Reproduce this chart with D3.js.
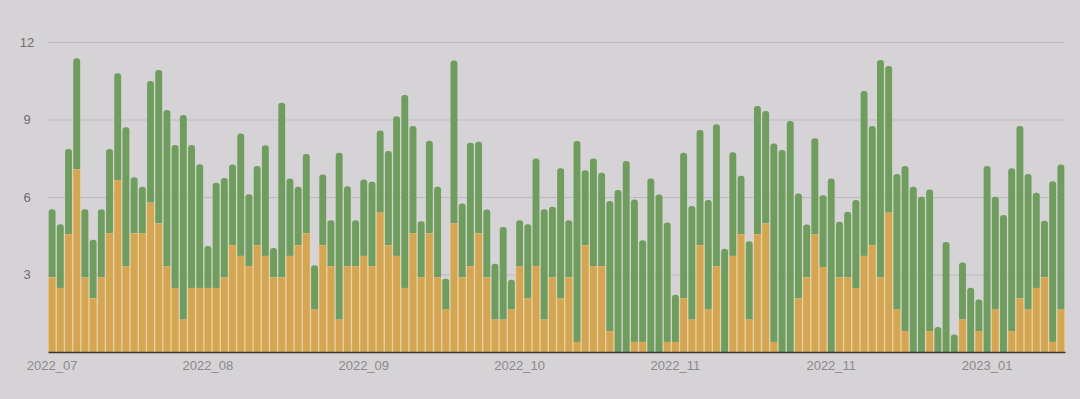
<!DOCTYPE html>
<html>
<head>
<meta charset="utf-8">
<script src="https://cdn.jsdelivr.net/npm/d3@7"></script>
<style>
  html, body { margin: 0; padding: 0; background: #d6d3d6; }
  svg { display: block; }
</style>
</head>
<body>
<div id="bar-chart"></div>
<script>
// lower series (orange) and upper series (green), one value per bar
let orangeValues = [2.88, 2.48, 4.56, 7.07, 2.88, 2.07, 2.88, 4.59, 6.65, 3.32, 4.59, 4.59, 5.78, 4.97, 3.32, 2.48, 1.25, 2.48, 2.48, 2.48,
    2.48, 2.88, 4.13, 3.72, 3.32, 4.13, 3.72, 2.88, 2.88, 3.72, 4.13, 4.59, 1.64, 4.13, 3.32, 1.25, 3.32, 3.32, 3.72, 3.32,
    5.39, 4.13, 3.72, 2.48, 4.59, 2.88, 4.59, 2.88, 1.64, 4.97, 2.88, 3.32, 4.59, 2.88, 1.25, 1.25, 1.64, 3.32, 2.07, 3.32,
    1.25, 2.88, 2.07, 2.88, 0.39, 4.13, 3.32, 3.32, 0.81, 0, 0, 0.39, 0.39, 0, 0, 0.39, 0.39, 2.07, 1.25, 4.13,
    1.64, 3.32, 0, 3.72, 4.56, 1.25, 4.56, 4.97, 0.39, 0, 0, 2.07, 2.88, 4.56, 3.29, 0, 2.88, 2.88, 2.48, 3.72,
    4.13, 2.88, 5.39, 1.64, 0.81, 0, 0, 0.81, 0, 0, 0, 1.25, 0, 0.81, 0, 1.64, 0, 0.81, 2.07, 1.64,
    2.48, 2.88, 0.39, 1.64];
let greenValues = [2.65, 2.47, 3.30, 4.30, 2.65, 2.28, 2.65, 3.27, 4.14, 5.38, 2.17, 1.81, 4.71, 5.95, 6.05, 5.53, 7.92, 5.53, 4.79, 1.62,
    4.07, 3.86, 3.13, 4.74, 2.79, 3.07, 4.28, 1.15, 6.77, 3.00, 2.27, 3.07, 1.72, 2.74, 1.78, 6.46, 3.10, 1.78, 2.96, 3.27,
    3.18, 3.65, 5.41, 7.47, 4.16, 2.18, 3.59, 3.52, 1.20, 6.31, 2.87, 4.78, 3.55, 2.64, 2.17, 3.59, 1.16, 1.78, 2.88, 4.17,
    4.28, 2.74, 5.04, 2.22, 7.78, 2.91, 4.17, 3.62, 5.04, 6.27, 7.39, 5.51, 3.94, 6.72, 6.10, 4.62, 1.83, 5.64, 4.40, 4.46,
    4.24, 5.50, 4.00, 4.01, 2.26, 3.04, 4.96, 4.36, 7.68, 7.82, 8.94, 4.07, 2.06, 3.71, 2.78, 6.72, 2.16, 2.55, 3.40, 6.38,
    4.62, 8.42, 5.68, 5.25, 6.39, 6.40, 6.01, 5.48, 0.97, 4.26, 0.68, 2.21, 2.49, 1.22, 7.20, 4.37, 5.30, 6.30, 6.68, 5.25,
    3.68, 2.20, 6.22, 5.62];

let tickLabels = ["2022_07", "2022_08", "2022_09", "2022_10", "2022_11", "2022_11", "2023_01"];
let tickBars = [0, 19, 38, 57, 76, 95, 114];
let yTicks = [3, 6, 9, 12];

let margin = { top: 42, right: 15, bottom: 47, left: 48 };
let fullWidth = 1080;
let fullHeight = 399;
let width = fullWidth - margin.left - margin.right;
let height = fullHeight - margin.top - margin.bottom;

let data = orangeValues.map(function (v, i) {
    return { idx: i, orange: v, green: greenValues[i] };
});

let stacked = d3.stack().keys(["orange", "green"])(data);

let xScale = d3.scaleBand()
    .domain(d3.range(data.length))
    .range([0, width])
    .paddingInner(0.16)
    .paddingOuter(0.08);

let yScale = d3.scaleLinear()
    .domain([0, 12])
    .range([height, 0]);

let svg = d3.select('#bar-chart').append('svg')
    .attr('width', fullWidth)
    .attr('height', fullHeight)
    .style('background', '#d6d3d6');

let g = svg.append('g')
    .attr('transform', 'translate(' + margin.left + ', ' + margin.top + ')');

// grid lines + y labels
let yAxis = d3.axisLeft(yScale)
    .tickValues(yTicks)
    .tickSize(-width)
    .tickPadding(14)
    .tickFormat(d3.format('d'));

let yGuide = g.append('g').call(yAxis);
yGuide.select('.domain').remove();
yGuide.selectAll('line').attr('stroke', '#bdbabd').attr('stroke-width', 1);
yGuide.selectAll('text')
    .attr('fill', '#6f6c6f')
    .attr('text-anchor', 'middle')
    .attr('x', -21)
    .style('font-family', 'Liberation Sans, Arial, sans-serif')
    .style('font-size', '13px');

let step = xScale.step();
let bw = xScale.bandwidth();
let r = Math.min(3, bw / 2);

// green (top) series with rounded tops
g.append('g').selectAll('path')
    .data(stacked[1])
    .enter().append('path')
    .attr('fill', '#6f9d5d')
    .attr('d', function (d, i) {
        let x0 = xScale(i), x1 = x0 + bw;
        let yt = yScale(d[1]), yb = yScale(d[0]);
        if (d[1] - d[0] <= 0) return null;
        let rr = Math.min(r, (yb - yt));
        return 'M' + x0 + ',' + yb +
            'V' + (yt + rr) +
            'Q' + x0 + ',' + yt + ' ' + (x0 + rr) + ',' + yt +
            'H' + (x1 - rr) +
            'Q' + x1 + ',' + yt + ' ' + x1 + ',' + (yt + rr) +
            'V' + yb + 'Z';
    });

// cream fill behind the orange series (shows in the gaps)
g.append('g').selectAll('rect')
    .data(stacked[0])
    .enter().append('rect')
    .attr('fill', '#e8d2a3')
    .attr('x', function (d, i) { return xScale(i) - (step - bw) / 2; })
    .attr('width', step)
    .attr('y', function (d) { return yScale(d[1]); })
    .attr('height', function (d) { return yScale(d[0]) - yScale(d[1]); });

g.append('g').selectAll('rect')
    .data(stacked[0])
    .enter().append('rect')
    .attr('fill', '#d5a652')
    .attr('x', function (d, i) { return xScale(i); })
    .attr('width', bw)
    .attr('y', function (d) { return yScale(d[1]); })
    .attr('height', function (d) { return yScale(d[0]) - yScale(d[1]); });

// baseline
let xAxis = d3.axisBottom(xScale)
    .tickValues(tickBars)
    .tickSize(0)
    .tickPadding(9)
    .tickFormat(function (d, i) { return tickLabels[i]; });

let xGuide = g.append('g')
    .attr('transform', 'translate(0, ' + height + ')')
    .call(xAxis);
xGuide.select('.domain').attr('stroke', '#3b3633').attr('stroke-width', 1.5);
xGuide.selectAll('text')
    .attr('fill', '#8b888b')
    .style('font-family', 'Liberation Sans, Arial, sans-serif')
    .style('font-size', '13px');
</script>
</body>
</html>
